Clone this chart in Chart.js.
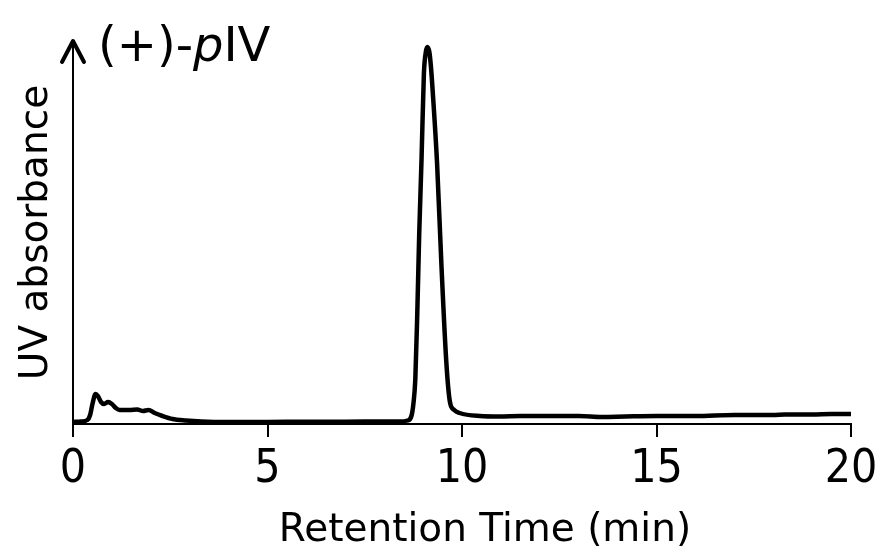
<!DOCTYPE html>
<html>
<head>
<meta charset="utf-8">
<script src="https://cdn.jsdelivr.net/npm/chart.js@4/dist/chart.umd.min.js"></script>
<style>
	html, body { margin: 0; padding: 0; background: #fff; }
	canvas { display: block; }
</style>
</head>
<body>
<canvas id="chromatogram" width="876" height="552"></canvas>
<script>
// Retention time (min) and UV absorbance (arbitrary units).
const times = [
	0, 0.2, 0.37, 0.44, 0.5, 0.58, 0.64, 0.72, 0.8, 0.9, 1.0, 1.1, 1.2, 1.45, 1.65, 1.8, 1.94, 2.1, 2.3, 2.56, 2.9, 3.3,
	4, 5, 6, 7, 8, 8.4, 8.6, 8.7, 8.75, 8.8, 8.85, 8.9, 8.96, 9.02, 9.07, 9.11, 9.16, 9.2, 9.26, 9.36, 9.47, 9.6, 9.69,
	9.8, 9.94, 10.46, 10.97, 11.5, 12, 13, 13.6, 14.2, 15, 16, 17, 18, 18.3, 19, 19.5, 20
];
const absorbance = [
	2, 2.5, 4, 9, 20, 30, 28, 22, 20, 22, 20, 16, 14, 14, 14.5, 13, 14, 11, 8, 5, 3.5, 2.5,
	2, 2, 2.3, 2.3, 2.5, 2.5, 3.5, 8, 20, 45, 110, 190, 265, 350, 372, 377, 372, 358, 325, 260, 160, 60, 22,
	14, 11, 8, 7.5, 8, 8, 8, 7, 7.5, 8, 8, 9, 9, 9.5, 9.5, 10, 10
];
const xTicks = [ 0, 5, 10, 15, 20 ];

const sampleName = [ '(+)-', 'p', 'IV' ];
const xTitle = 'Retention Time (min)';
const yTitle = 'UV absorbance';

const titleFont = '"DejaVu Sans", sans-serif';

// Arrow on the y axis, the sample name and the x title.
const decorations = {
	id: 'decorations',
	afterDraw( chart ) {
		const { ctx, chartArea } = chart;
		const x = chart.scales.x.getPixelForValue( 0 );
		const top = chartArea.top;
		ctx.save();
		ctx.strokeStyle = '#000';
		ctx.lineWidth = 4;
		ctx.lineCap = 'round';
		ctx.lineJoin = 'round';
		ctx.beginPath();
		ctx.moveTo( x - 11, top + 21 );
		ctx.lineTo( x, top );
		ctx.lineTo( x + 11, top + 21 );
		ctx.stroke();

		// Sample name, with an italic "p".
		ctx.fillStyle = '#000';
		ctx.textBaseline = 'alphabetic';
		ctx.textAlign = 'left';
		let tx = 98;
		sampleName.forEach( ( part, i ) => {
			ctx.font = ( i === 1 ? 'italic ' : '' ) + '48px ' + titleFont;
			ctx.fillText( part, tx, 61 );
			tx += ctx.measureText( part ).width;
		} );

		ctx.font = '39px ' + titleFont;
		ctx.textAlign = 'center';
		ctx.fillText( xTitle, 485, 541 );
		ctx.restore();
	}
};

new Chart( document.getElementById( 'chromatogram' ), {
	type: 'line',
	data: {
		datasets: [
			{
				data: times.map( ( t, i ) => ( { x: t, y: absorbance[ i ] } ) ),
				borderColor: '#000',
				borderWidth: 4.5,
				pointRadius: 0,
				cubicInterpolationMode: 'monotone',
				fill: false,
			}
		],
	},
	options: {
		responsive: false,
		animation: false,
		devicePixelRatio: 1,
		layout: {
			padding: { top: 41, right: 25, left: 0, bottom: 0 },
		},
		plugins: {
			legend: { display: false },
			tooltip: { enabled: false },
		},
		scales: {
			x: {
				type: 'linear',
				min: 0,
				max: 20,
				afterFit: ( scale ) => {
					scale.height = 128;
					scale.paddingLeft = 0;
					scale.paddingRight = 0;
				},
				afterBuildTicks: ( scale ) => {
					scale.ticks = xTicks.map( ( v ) => ( { value: v } ) );
				},
				border: { display: true, color: '#000', width: 2 },
				grid: {
					drawOnChartArea: false,
					drawTicks: true,
					tickLength: 13,
					color: '#000',
					lineWidth: 2,
				},
				ticks: {
					color: '#000',
					padding: 5,
					maxRotation: 0,
					font: { family: '"Liberation Sans Narrow", "DejaVu Sans Condensed", sans-serif', size: 46 },
				},
			},
			y: {
				min: 0,
				max: 383,
				afterFit: ( scale ) => { scale.width = 73; },
				border: { display: true, color: '#000', width: 2 },
				grid: { display: false },
				ticks: { display: false },
				title: {
					display: true,
					text: yTitle,
					color: '#000',
					padding: { top: 13, bottom: 0 },
					font: { family: titleFont, size: 39 },
				},
			},
		},
	},
	plugins: [ decorations ],
} );
</script>
</body>
</html>
